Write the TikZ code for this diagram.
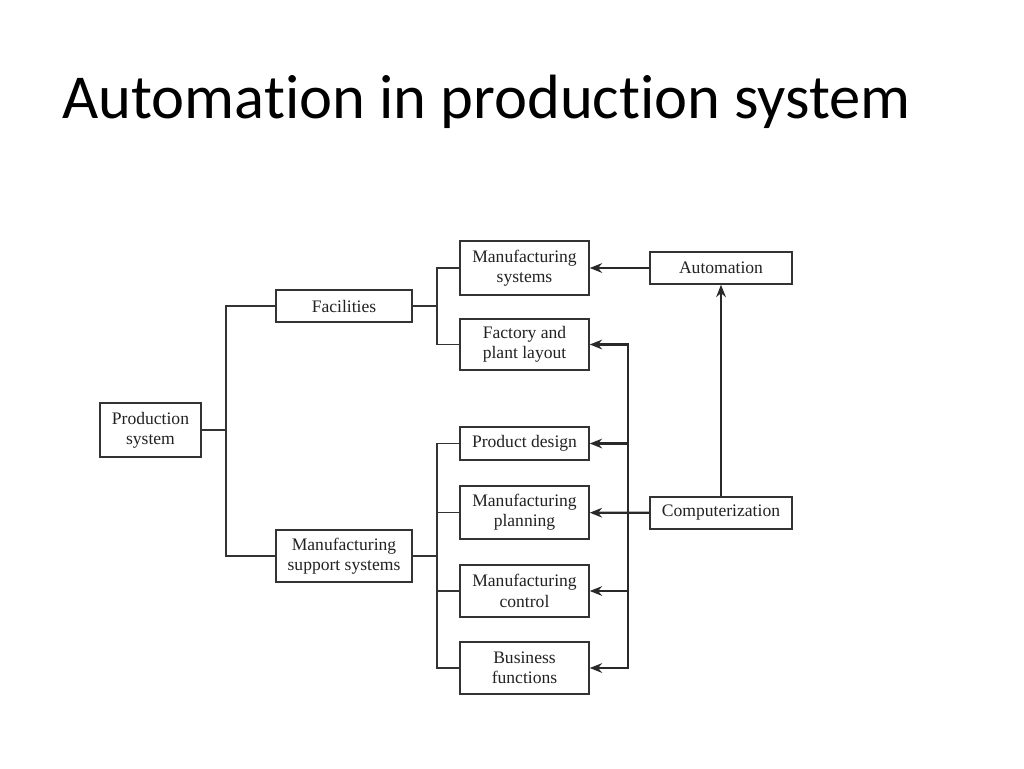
\documentclass[tikz,border=0pt]{standalone}
\usepackage{fontspec}
\setmainfont{Liberation Serif}
\newfontfamily\titlefont[Ligatures=NoCommon]{Carlito}
\usepackage{tikz}
\usetikzlibrary{positioning,arrows.meta}
\definecolor{myline}{HTML}{333333}
\definecolor{mytext}{HTML}{222222}

\begin{document}
\begin{tikzpicture}[x=0.02cm,y=-0.02cm,
    box/.style={draw=myline,line width=0.9pt,fill=white,text=mytext,align=center,
      inner sep=0pt,font=\fontsize{10}{11.6}\selectfont},
    tree/.style={draw=myline,line width=0.8pt},
    bus/.style={draw=myline!80!black,line width=1.3pt,line cap=rect},
    arr/.style={draw=myline!80!black,line width=1.3pt,-{Stealth[length=7pt,width=5.5pt]}}]
        % Frame
        \useasboundingbox (0,0) rectangle (1024,768);
        \fill[white] (0,0) rectangle (1024,768);

        % Title
        \node[anchor=base west,inner sep=0pt,font=\titlefont\fontsize{35.6}{40}\selectfont,text=black]
            (title) at (62,118) {Automation in production system};

        % Boxes
        \node[box,minimum width=2.02cm,minimum height=1.08cm] (prod) at (150.5,430) {Production\\system};
        \node[box,minimum width=2.72cm,minimum height=0.64cm] (fac) at (344,306) {Facilities};
        \node[box,minimum width=2.72cm,minimum height=1.04cm] (mss) at (344,556) {Manufacturing\\support systems};
        \node[box,minimum width=2.58cm,minimum height=1.08cm] (msys) at (524.5,268) {Manufacturing\\systems};
        \node[box,minimum width=2.58cm,minimum height=1.02cm] (layout) at (524.5,344.5) {Factory and\\plant layout};
        \node[box,minimum width=2.58cm,minimum height=0.66cm] (design) at (524.5,443.5) {Product design};
        \node[box,minimum width=2.58cm,minimum height=1.06cm] (planning) at (524.5,512.5) {Manufacturing\\planning};
        \node[box,minimum width=2.58cm,minimum height=1.04cm] (control) at (524.5,591) {Manufacturing\\control};
        \node[box,minimum width=2.58cm,minimum height=1.04cm] (business) at (524.5,668) {Business\\functions};
        \node[box,minimum width=2.84cm,minimum height=0.64cm] (auto) at (721,268) {Automation};
        \node[box,minimum width=2.84cm,minimum height=0.64cm] (comp) at (721,513) {Computerization};

        % Tree
        \coordinate (j1) at (226,430);
        \coordinate (j2) at (437,306);
        \coordinate (j3) at (437,556);
        \draw[tree] (prod.east) -- (j1);
        \draw[tree] (fac.west) -| (j1) |- (mss.west);
        \draw[tree] (fac.east) -- (j2);
        \draw[tree] (msys.west) -| (j2) |- (layout.west);
        \draw[tree] (mss.east) -- (j3);
        \draw[tree] (design.west) -| (j3) |- (business.west);
        \draw[tree] (planning.west) -- (planning.west -| j3);
        \draw[tree] (control.west) -- (control.west -| j3);

        % Arrows
        \coordinate (bus) at (628,513);
        \draw[arr] (auto) -- (msys);
        \draw[arr] (comp) -- (auto);
        \draw[arr] (comp) -- (planning);
        \draw[bus] (layout.east -| bus) -- (business.east -| bus);
        \foreach \n in {layout,design,control,business}
            \draw[arr] (\n.east -| bus) -- (\n.east);
\end{tikzpicture}
\end{document}
